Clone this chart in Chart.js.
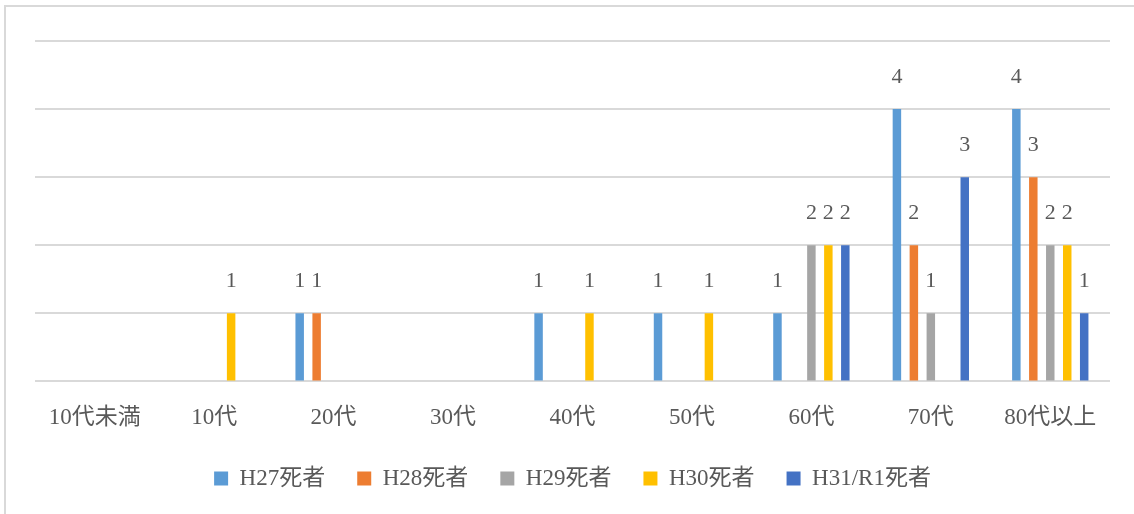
<!DOCTYPE html>
<html lang="ja">
<head>
  <meta charset="UTF-8"/>
  <title>年代別死者数</title>
  <script src="https://cdn.jsdelivr.net/npm/chart.js"></script>
  <style>
    * { box-sizing: border-box; margin: 0; padding: 0; }
    body { background: #fff; overflow: hidden; }
    #wrap { position: relative; width: 1134px; height: 514px; }
    #frame {
      position: absolute; left: 4px; top: 5px; width: 1140px; height: 520px;
      border-left: 2px solid #d9d9d9; border-top: 2px solid #d9d9d9;
      pointer-events: none;
    }
  </style>
</head>
<body>
  <div id="wrap">
    <canvas id="deathChart" width="1134" height="514"></canvas>
    <div id="frame"></div>
  </div>

  <script>
    // categories (age groups)
    const ageGroups = ['10代未満', '10代', '20代', '30代', '40代', '50代', '60代', '70代', '80代以上'];

    // deaths per year
    const h27 = [0, 0, 1, 0, 1, 1, 1, 4, 4];
    const h28 = [0, 0, 1, 0, 0, 0, 0, 2, 3];
    const h29 = [0, 0, 0, 0, 0, 0, 2, 1, 2];
    const h30 = [0, 1, 0, 0, 1, 1, 2, 0, 2];
    const h31 = [0, 0, 0, 0, 0, 0, 2, 3, 1];

    const seriesNames = ['H27死者', 'H28死者', 'H29死者', 'H30死者', 'H31/R1死者'];
    const seriesColors = ['#5b9bd5', '#ed7d31', '#a5a5a5', '#ffc000', '#4472c4'];

    const fontFamily = "'Liberation Serif', 'Noto Sans CJK JP', serif";
    const textColor = '#595959';

    // draws the value above every non-zero bar
    const valueLabels = {
      id: 'valueLabels',
      afterDatasetsDraw(chart) {
        const ctx = chart.ctx;
        ctx.save();
        ctx.font = '22px ' + fontFamily;
        ctx.fillStyle = textColor;
        ctx.textAlign = 'center';
        ctx.textBaseline = 'middle';
        chart.data.datasets.forEach((ds, i) => {
          chart.getDatasetMeta(i).data.forEach((bar, j) => {
            const v = ds.data[j];
            if (!v) return;
            ctx.fillText(String(v), bar.x, bar.y - 32);
          });
        });
        ctx.restore();
      }
    };

    const datasets = [h27, h28, h29, h30, h31].map((vals, i) => ({
      label: seriesNames[i],
      data: vals,
      backgroundColor: seriesColors[i],
      barPercentage: 0.5,
      categoryPercentage: 0.71
    }));

    new Chart(document.getElementById('deathChart'), {
      type: 'bar',
      data: { labels: ageGroups, datasets },
      options: {
        responsive: false,
        animation: false,
        layout: { padding: { left: 35, right: 24, top: 41, bottom: 14 } },
        scales: {
          y: {
            min: 0, max: 5,
            ticks: { display: false, stepSize: 1 },
            grid: { color: '#d9d9d9', lineWidth: 2, drawTicks: false },
            border: { display: false }
          },
          x: {
            grid: { display: false },
            border: { display: false },
            ticks: { color: textColor, font: { family: fontFamily, size: 23 }, padding: 15 },
            // pull the legend up closer to the tick labels
            afterFit(scale) { scale.height -= 12; }
          }
        },
        plugins: {
          legend: {
            position: 'bottom',
            labels: {
              color: textColor,
              font: { family: fontFamily, size: 23 },
              boxWidth: 14, boxHeight: 14,
              padding: 32
            }
          },
          tooltip: { enabled: false }
        }
      },
      plugins: [valueLabels]
    });
  </script>
</body>
</html>
